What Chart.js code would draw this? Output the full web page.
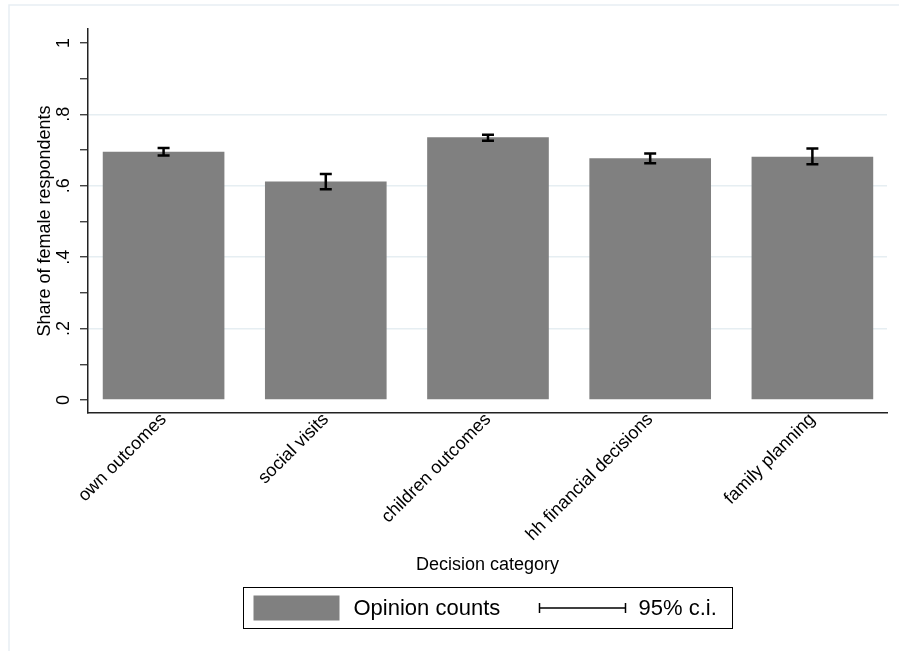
<!DOCTYPE html>
<html>
<head>
<meta charset="utf-8">
<script src="https://cdn.jsdelivr.net/npm/chart.js@4.4.1/dist/chart.umd.min.js"></script>
<style>
  html, body { margin: 0; padding: 0; background: #ffffff; }
  #wrap { width: 899px; height: 651px; position: relative; }
</style>
</head>
<body>
<div id="wrap"><canvas id="c" width="899" height="651"></canvas></div>
<script>
// ---- data ----
const categories = ["own outcomes", "social visits", "children outcomes", "hh financial decisions", "family planning"];
const shares = [0.695, 0.612, 0.736, 0.677, 0.681];
const ciLow = [0.685, 0.590, 0.726, 0.663, 0.660];
const ciHigh = [0.706, 0.633, 0.743, 0.690, 0.704];
const yTickValues = [0, 0.1, 0.2, 0.3, 0.4, 0.5, 0.6, 0.7, 0.8, 0.9, 1];
const yTickLabels = ["0", "", ".2", "", ".4", "", ".6", "", ".8", "", "1"];
const yGridValues = [0.2, 0.4, 0.6, 0.8];
const legendLabels = ["Opinion counts", "95% c.i."];
const xTitle = "Decision category";
const yTitle = "Share of female respondents";

const FONT = "'Liberation Sans', Arial, sans-serif";
const BAR_COLOR = "#808080";

const errorBarPlugin = {
  id: "errorBars",
  afterDatasetsDraw(chart) {
    const ctx = chart.ctx;
    const xs = chart.scales.x, ys = chart.scales.y;
    ctx.save();
    ctx.strokeStyle = "#000";
    ctx.lineWidth = 2.5;
    ctx.lineCap = "butt";
    for (let i = 0; i < categories.length; i++) {
      const x = xs.getPixelForValue(i);
      const y1 = ys.getPixelForValue(ciLow[i]);
      const y2 = ys.getPixelForValue(ciHigh[i]);
      const hw = 6;
      ctx.beginPath();
      ctx.moveTo(x, y1); ctx.lineTo(x, y2);
      ctx.moveTo(x - hw, y1); ctx.lineTo(x + hw, y1);
      ctx.moveTo(x - hw, y2); ctx.lineTo(x + hw, y2);
      ctx.stroke();
    }
    ctx.restore();
  }
};

const frameLegendPlugin = {
  id: "frameLegend",
  beforeDraw(chart) {
    const ctx = chart.ctx;
    ctx.save();
    ctx.fillStyle = "#fff";
    ctx.fillRect(0, 0, chart.width, chart.height);
    ctx.strokeStyle = "#e8eef3";
    ctx.lineWidth = 1.5;
    ctx.beginPath();
    ctx.moveTo(9, chart.height);
    ctx.lineTo(9, 5);
    ctx.lineTo(chart.width, 5);
    ctx.stroke();
    ctx.restore();
  },
  afterDraw(chart) {
    const ctx = chart.ctx;
    const ca = chart.chartArea;
    const cx = (ca.left + ca.right) / 2;
    const bw = 489, bh = 41;
    const bx = Math.round(cx - bw / 2) + 0.5, by = 587.5;
    ctx.save();
    ctx.strokeStyle = "#000";
    ctx.lineWidth = 1;
    ctx.strokeRect(bx, by, bw, bh);
    const my = by + bh / 2;
    // bar swatch
    ctx.fillStyle = BAR_COLOR;
    ctx.fillRect(bx + 10, my - 12.5, 86, 25);
    ctx.fillStyle = "#000";
    ctx.font = "22px " + FONT;
    ctx.textBaseline = "middle";
    ctx.textAlign = "left";
    ctx.fillText(legendLabels[0], bx + 110, my + 1);
    // ci symbol
    const lx1 = bx + 296, lx2 = bx + 382;
    ctx.lineWidth = 1.5;
    ctx.beginPath();
    ctx.moveTo(lx1, my); ctx.lineTo(lx2, my);
    ctx.moveTo(lx1, my - 5); ctx.lineTo(lx1, my + 5);
    ctx.moveTo(lx2, my - 5); ctx.lineTo(lx2, my + 5);
    ctx.stroke();
    ctx.fillText(legendLabels[1], bx + 395, my + 1);
    ctx.restore();
  }
};

new Chart(document.getElementById("c"), {
  type: "bar",
  data: {
    datasets: [{
      label: legendLabels[0],
      data: categories.map((c, i) => ({ x: i, y: shares[i] })),
      backgroundColor: BAR_COLOR,
      borderWidth: 0,
      barPercentage: 0.75,
      categoryPercentage: 1.0
    }]
  },
  options: {
    responsive: false,
    animation: false,
    layout: { padding: { left: 0, right: 12, top: 29, bottom: 71 } },
    plugins: { legend: { display: false }, tooltip: { enabled: false } },
    scales: {
      x: {
        type: "linear",
        offset: false,
        min: -0.466,
        max: 4.46,
        afterBuildTicks(scale) { scale.ticks = categories.map((c, i) => ({ value: i })); },
        afterFit(scale) { scale.height = 167; },
        grid: { display: false, drawTicks: false, offset: false },
        border: { display: true, color: "#222", width: 1.5 },
        ticks: {
          autoSkip: false,
          minRotation: 45,
          maxRotation: 45,
          padding: -4,
          color: "#000",
          font: { family: FONT, size: 18 },
          callback: (v) => categories[v]
        },
        title: {
          display: true,
          text: xTitle,
          color: "#000",
          font: { family: FONT, size: 18 },
          padding: { top: 0, bottom: 4 }
        }
      },
      y: {
        min: -0.0364,
        max: 1.039,
        afterBuildTicks(scale) { scale.ticks = yTickValues.map(v => ({ value: v })); },
        afterFit(scale) { scale.width = 88; },
        grid: {
          color: (c) => (c.tick && yGridValues.some(g => Math.abs(g - c.tick.value) < 1e-6)) ? "#e6eef2" : "rgba(0,0,0,0)",
          lineWidth: 1.5,
          tickColor: "#222",
          tickLength: 8,
          tickWidth: 1.2,
          drawOnChartArea: true
        },
        border: { display: true, color: "#222", width: 1.5 },
        ticks: {
          autoSkip: false,
          minRotation: 90,
          maxRotation: 90,
          crossAlign: "center",
          padding: 8,
          color: "#000",
          font: { family: FONT, size: 18 },
          callback: (v) => {
            const k = yTickValues.findIndex(t => Math.abs(t - v) < 1e-6);
            return k >= 0 ? yTickLabels[k] : "";
          }
        },
        title: {
          display: true,
          text: yTitle,
          color: "#000",
          font: { family: FONT, size: 18 },
          padding: { top: 34, bottom: 0 }
        }
      }
    }
  },
  plugins: [frameLegendPlugin, errorBarPlugin]
});
</script>
</body>
</html>
